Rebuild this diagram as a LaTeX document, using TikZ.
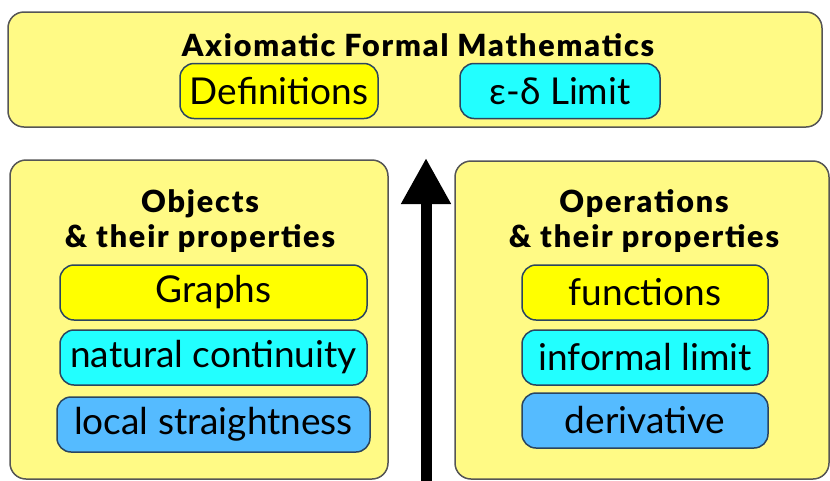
\documentclass[tikz,border=0pt]{standalone}
\usepackage{fontspec}
\setmainfont{Lato}
\newfontfamily\headfont{Lato Black}[LetterSpace=6]
\usetikzlibrary{arrows.meta}
\definecolor{paleyellow}{HTML}{FFFA85}
\definecolor{brightyellow}{HTML}{FFFF00}
\definecolor{brightcyan}{HTML}{22FFFF}
\definecolor{skyblue}{HTML}{55BBFF}
\definecolor{edgegrey}{HTML}{555555}
\definecolor{edgeblue}{HTML}{2A4560}

\begin{document}
\begin{tikzpicture}[x=1pt, y=-1pt,
	panel/.style={draw=edgegrey, line width=1.5pt, fill=paleyellow, rounded corners=16pt, inner sep=0pt},
	item/.style={draw=edgeblue, line width=1.5pt, rounded corners=14pt, minimum height=55pt, inner sep=0pt, font=\fontsize{37}{40}\selectfont},
	heading/.style={font=\fontsize{30.5}{35}\selectfont\headfont, align=center},
	>={Triangle[width=47pt, length=46pt]}]
	\useasboundingbox (0,0) rectangle (830,480);
	\clip (0,0) rectangle (830,480);
	\node[panel, minimum width=814pt, minimum height=115pt] (formal) at (415,69.5) {};
	\node[heading] (formaltitle) at (418,45) {Axiomatic Formal Mathematics};
	\node[item, fill=brightyellow, minimum width=198pt] (defs) at (279,91) {Definitions};
	\node[item, fill=brightcyan, minimum width=200pt] (epsdelta) at (560,91) {ε-δ Limit};
	\begin{scope}
		\node[panel, minimum width=378pt, minimum height=319pt] (objects) at (199,319.5) {};
		\node[heading] (objtitle) at (200,221) {Objects\\\& their properties};
		\node[item, fill=brightyellow, minimum width=307pt] (graphs) at (213.5,292.5) {Graphs};
		\node[item, fill=brightcyan, minimum width=307pt] (continuity) at (213.5,357.5) {natural continuity};
		\node[item, fill=skyblue, minimum width=313pt] (straight) at (213.5,424.5) {local straightness};
	\end{scope}
	\begin{scope}
		\node[panel, minimum width=374pt, minimum height=318pt] (operations) at (642,320) {};
		\node[heading] (optitle) at (644,221) {Operations\\\& their properties};
		\node[item, fill=brightyellow, minimum width=246pt] (functions) at (645,292.5) {functions};
		\node[item, fill=brightcyan, minimum width=246pt] (limit) at (645,357.5) {informal limit};
		\node[item, fill=skyblue, minimum width=246pt] (derivative) at (645,420.5) {derivative};
	\end{scope}
	\coordinate (base) at (426,490);
	\coordinate (tip) at (426,158);
	\draw[->, line width=11pt] (base) -- (tip);
\end{tikzpicture}
\end{document}
